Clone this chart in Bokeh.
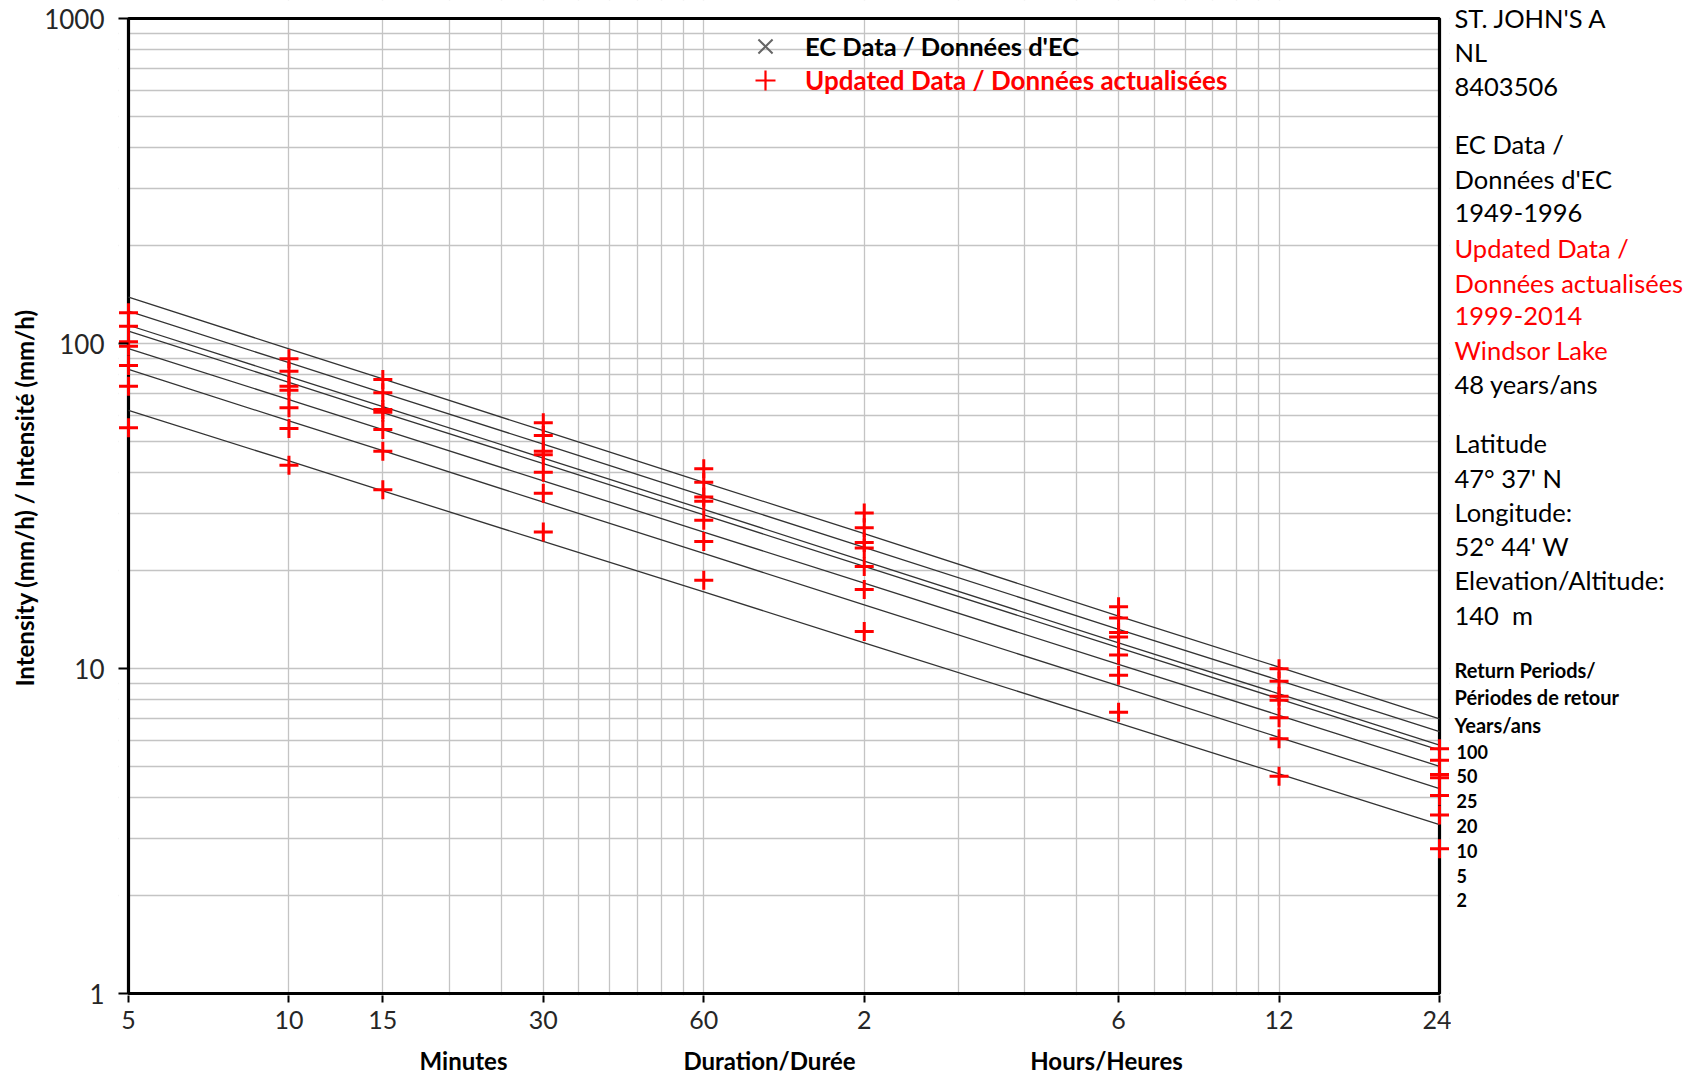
from bokeh.plotting import figure
from bokeh.layouts import row, column
from bokeh.models import (FixedTicker, Grid, Label, Legend, LegendItem, Range1d)
from bokeh.embed import file_html
from bokeh.resources import INLINE

# ---------------- data ----------------
durations = [5, 10, 15, 30, 60, 120, 360, 720, 1440]          # minutes
x_tick_labels = ["5", "10", "15", "30", "60", "2", "6", "12", "24"]
y_ticks = [1, 10, 100, 1000]
y_tick_labels = ["1", "10", "100", "1000"]
x_grid_minutes = [10, 15, 20, 25, 30, 35, 40, 45, 50, 55, 60,
                  120, 180, 240, 300, 360, 420, 480, 540, 600, 660, 720]
return_periods = ["100", "50", "25", "20", "10", "5", "2"]

# EC data (1949-1996), intensity mm/h, one list per curve (top to bottom)
ec_100 = [138.8, 96.3, 77.8, 53.9, 37.4, 26.0, 14.5, 10.1, 7.00]
ec_50 = [125.7, 87.3, 70.5, 49.0, 34.0, 23.6, 13.2, 9.20, 6.39]
ec_25 = [113.8, 79.1, 63.9, 44.4, 30.9, 21.4, 12.0, 8.36, 5.81]
ec_20 = [109.1, 75.9, 61.3, 42.7, 29.7, 20.6, 11.6, 8.07, 5.61]
ec_10 = [96.5, 67.2, 54.3, 37.8, 26.3, 18.3, 10.3, 7.18, 5.00]
ec_5 = [83.2, 57.8, 46.8, 32.5, 22.6, 15.7, 8.84, 6.14, 4.27]
ec_2 = [62.3, 43.5, 35.2, 24.6, 17.2, 12.0, 6.79, 4.74, 3.31]

# Updated data (1999-2014, Windsor Lake)
upd_100 = [124.3, 89.7, 77.5, 57.0, 41.2, 30.1, 15.5, 9.98, 5.66]
upd_50 = [113.0, 82.2, 70.5, 52.1, 37.4, 27.1, 14.3, 9.14, 5.22]
upd_25 = [101.2, 73.9, 62.7, 46.6, 33.7, 24.4, 12.9, 8.22, 4.72]
upd_20 = [98.1, 71.8, 61.4, 45.5, 32.7, 23.5, 12.5, 7.99, 4.61]
upd_10 = [85.6, 63.4, 54.4, 40.2, 28.6, 20.6, 11.0, 7.05, 4.07]
upd_5 = [73.9, 54.8, 46.6, 34.6, 24.6, 17.5, 9.54, 6.08, 3.54]
upd_2 = [55.1, 42.2, 35.5, 26.3, 18.7, 13.0, 7.34, 4.66, 2.79]

info_texts = ["ST. JOHN'S A", "NL", "8403506",
              "EC Data /", "Données d'EC", "1949-1996",
              "Updated Data /", "Données actualisées", "1999-2014", "Windsor Lake",
              "48 years/ans",
              "Latitude", "47° 37' N", "Longitude:", "52° 44' W",
              "Elevation/Altitude:", "140\u00a0 m"]
info_colors = ["black"] * 6 + ["red"] * 4 + ["black"] * 7
rp_header = ["Return Periods/", "Périodes de retour", "Years/ans"]
x_group_labels = ["Minutes", "Duration/Durée", "Hours/Heures"]
y_title = "Intensity (mm/h) / Intensité (mm/h)"
legend_ec = "EC Data / Données d'EC"
legend_upd = "Updated Data / Données actualisées"

FONT = "Lato"
ec_series = [ec_100, ec_50, ec_25, ec_20, ec_10, ec_5, ec_2]
upd_series = [upd_100, upd_50, upd_25, upd_20, upd_10, upd_5, upd_2]

# ---------------- main figure ----------------
DEC = 325.0                       # px per decade on the y axis
xpad = 1.0441                     # ~10 px so edge markers are not clipped
ypad_lo = 10 ** (2 / DEC)         # ~2 px below the chart frame
ypad_hi = 10 ** (18 / DEC)        # 18 px strip above the chart frame
x_lo, x_hi = durations[0] / xpad, durations[-1] * xpad
y_lo, y_hi = y_ticks[0] / ypad_lo, y_ticks[-1] * ypad_hi
LEFT, FW, FH, BOTTOM = 118, 1331, 995, 46
TOTAL_W = 1690

p = figure(x_axis_type="log", y_axis_type="log",
           x_range=Range1d(x_lo, x_hi), y_range=Range1d(y_lo, y_hi),
           frame_width=FW, frame_height=FH,
           min_border_left=LEFT, min_border_right=2,
           min_border_top=0, min_border_bottom=BOTTOM,
           output_backend="svg", toolbar_location=None)
p.title = None
p.outline_line_color = None
p.background_fill_color = "white"
p.border_fill_color = "white"

GRID = "#c4c4c4"
minor_y = [m * 10 ** e for e in range(0, 3) for m in range(2, 10)]
p.yaxis.ticker = FixedTicker(ticks=y_ticks, minor_ticks=minor_y)
p.ygrid.grid_line_color = GRID
p.ygrid.grid_line_width = 1.3
p.ygrid.minor_grid_line_color = GRID
p.ygrid.minor_grid_line_width = 1.3
p.xgrid.visible = False
p.add_layout(Grid(dimension=0, ticker=FixedTicker(ticks=x_grid_minutes),
                  grid_line_color=GRID, grid_line_width=1.3))

# white masks over the padding strips, then the black chart frame
p.quad(left=[x_lo, durations[-1], x_lo], right=[durations[0], x_hi, x_hi],
       bottom=[y_lo, y_lo, y_ticks[-1]], top=[y_hi, y_hi, y_hi],
       fill_color="white", fill_alpha=1, line_alpha=0)
p.quad(left=[durations[0]], right=[durations[-1]],
       bottom=[y_ticks[0]], top=[y_ticks[-1]],
       fill_alpha=0, line_color="black", line_width=3.2)

# axes
p.xaxis.ticker = FixedTicker(ticks=durations)
p.xaxis.major_label_overrides = {d: l for d, l in zip(durations, x_tick_labels)}
p.yaxis.major_label_overrides = {t: l for t, l in zip(y_ticks, y_tick_labels)}
for ax in (p.xaxis, p.yaxis):
    ax.axis_line_color = None
    ax.minor_tick_line_color = None
    ax.major_tick_line_color = "black"
    ax.major_tick_line_width = 2
    ax.major_label_text_font = FONT
    ax.major_label_text_color = "#262626"
p.xaxis.major_label_text_font_size = "25px"
p.yaxis.major_label_text_font_size = "26px"
p.xaxis.major_tick_out = 7
p.xaxis.major_tick_in = 0
p.xaxis.major_label_standoff = 8
p.yaxis.major_tick_out = 0
p.yaxis.major_tick_in = 10
p.yaxis.major_label_standoff = 10
p.yaxis.axis_label = y_title
p.yaxis.axis_label_text_font = FONT
p.yaxis.axis_label_text_font_size = "24px"
p.yaxis.axis_label_text_font_style = "bold"
p.yaxis.axis_label_text_color = "black"
p.yaxis.axis_label_standoff = 2

# EC lines
p.multi_line(xs=[durations] * len(ec_series), ys=ec_series,
             line_color="#333333", line_width=1.3)

# Updated data markers
ux, uy, ex, ey = [], [], [], []
for s in upd_series:
    ux.extend(durations)
    uy.extend(s)
for s in ec_series:
    ex.extend(durations)
    ey.extend(s)
p.scatter(x=ux, y=uy, marker="cross", size=19, line_color="#ff0000", line_width=3)

# hidden renderers only used for the legend glyphs
leg_x = p.scatter(x=ex, y=ey, marker="x", size=15, line_color="#666666", line_width=2)
leg_x.visible = False
leg_p = p.scatter(x=ux, y=uy, marker="cross", size=22, line_color="#ff0000", line_width=2.2)
leg_p.visible = False
legend_rows = [
    # label, renderer, colour, font size, glyph box, x, y, standoff
    (legend_ec, leg_x, "black", "25.5px", 50, 622, 924, 15),
    (legend_upd, leg_p, "#ff0000", "26px", 50, 622, 890, 15),
]
for label, rend, col, fs, gb, lx, ly, so in legend_rows:
    lg = Legend(items=[LegendItem(label=label, renderers=[rend])],
                location=(lx, ly), glyph_width=gb, glyph_height=gb,
                label_standoff=so, padding=0, margin=0, spacing=0,
                border_line_alpha=0, background_fill_alpha=0,
                inactive_fill_alpha=0,
                label_text_font=FONT, label_text_font_size=fs,
                label_text_font_style="bold", label_text_color=col)
    p.add_layout(lg)

# ---------------- right-hand information panel ----------------
side_h = FH + BOTTOM
q = figure(width=TOTAL_W - (LEFT + FW + 2), height=side_h,
           x_range=Range1d(0, 1), y_range=Range1d(0, 1),
           x_axis_location=None, y_axis_location=None, min_border=0,
           output_backend="svg", toolbar_location=None)
q.title = None
q.outline_line_color = None
q.grid.visible = False
info_y = [17, 51, 86, 143, 178, 212, 247, 282, 315, 349, 383,
          442, 477, 511, 545, 579, 614]
for t, c, yy in zip(info_texts, info_colors, info_y):
    q.add_layout(Label(x=3, y=yy, x_units="canvas", y_units="canvas", text=t,
                       text_font=FONT, text_font_size="25.5px", text_color=c,
                       text_align="left", text_baseline="middle"))
for i, t in enumerate(rp_header):
    q.add_layout(Label(x=3, y=669 + i * 27.6, x_units="canvas", y_units="canvas",
                       text=t, text_font=FONT, text_font_size="20px",
                       text_font_style="bold", text_color="black",
                       text_align="left", text_baseline="middle"))
for i, t in enumerate(return_periods):
    q.add_layout(Label(x=5, y=751 + i * 24.8, x_units="canvas", y_units="canvas",
                       text=t, text_font=FONT, text_font_size="18px",
                       text_font_style="bold", text_color="black",
                       text_align="left", text_baseline="middle"))

# ---------------- bottom group labels ----------------
r = figure(width=TOTAL_W, height=36, x_range=Range1d(0, 1), y_range=Range1d(0, 1),
           x_axis_location=None, y_axis_location=None, min_border=0,
           output_backend="svg", toolbar_location=None)
r.title = None
r.outline_line_color = None
r.grid.visible = False
for t, xx in zip(x_group_labels, [463, 769, 1106]):
    r.add_layout(Label(x=xx, y=19, x_units="canvas", y_units="canvas", text=t,
                       text_font=FONT, text_font_size="24px", text_font_style="bold",
                       text_color="black", text_align="center", text_baseline="middle"))

layout = column(row(p, q), r)
open("out.html", "w").write(file_html(layout, INLINE))
